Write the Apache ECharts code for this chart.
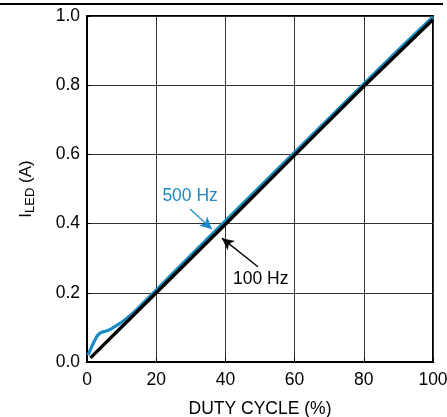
<!DOCTYPE html>
<html>
<head>
<meta charset="utf-8">
<script src="https://cdn.jsdelivr.net/npm/echarts@6/dist/echarts.min.js"></script>
<style>
  html, body { margin: 0; padding: 0; background: #fff; }
  #chart { width: 447px; height: 417px; }
</style>
</head>
<body>
<div id="chart"></div>
<script>
// LED current vs. PWM duty cycle at two dimming frequencies
const dutyCycle500 = [0.3, 1, 2, 3, 4, 5, 6, 7, 8, 10, 12, 15, 20, 30, 40, 50, 60, 70, 80, 90, 100];
const iLed500      = [0.02, 0.036, 0.058, 0.076, 0.085, 0.088, 0.091, 0.096, 0.102, 0.115, 0.13, 0.158, 0.208, 0.308, 0.408, 0.507, 0.606, 0.705, 0.804, 0.902, 0.997];
const dutyCycle100 = [1, 20, 40, 60, 80, 100];
const iLed100      = [0.012, 0.2, 0.398, 0.598, 0.797, 0.99];

const xTicks = [0, 20, 40, 60, 80, 100];
const yTicks = [0.0, 0.2, 0.4, 0.6, 0.8, 1.0];

// Callout annotations in data units: [text, textX, textY, arrowFromX, arrowFromY, arrowToX, arrowToY]
const label500 = ['500 Hz', 29.8, 0.478, 29.8, 0.442, 36.1, 0.384];
const label100 = ['100 Hz', 50.2, 0.240, 49.4, 0.275, 39.0, 0.358];

const BLUE = '#1a8bc6';
const FONT = 'Liberation Sans, Arial, Helvetica, sans-serif';

function zip(xs, ys) { return xs.map((x, i) => [x, ys[i]]); }

function callout(def, color) {
  return {
    markLine: {
      silent: true,
      animation: false,
      symbol: ['none', 'arrow'],
      symbolSize: [9, 12],
      label: { show: false },
      lineStyle: { color: color, width: 1.3, type: 'solid' },
      data: [[{ coord: [def[3], def[4]] }, { coord: [def[5], def[6]] }]]
    },
    markPoint: {
      silent: true,
      animation: false,
      symbol: 'circle',
      symbolSize: 0,
      data: [{ coord: [def[1], def[2]] }],
      label: {
        show: true,
        position: 'inside',
        formatter: def[0],
        color: color,
        fontSize: 17.5,
        fontFamily: FONT
      }
    }
  };
}

const chart = echarts.init(document.getElementById('chart'), null, { renderer: 'canvas' });

chart.setOption({
  animation: false,
  backgroundColor: '#fff',
  grid: {
    left: 87, top: 16, right: 14, bottom: 55,
    outerBoundsMode: 'none',
    containLabel: false,
    show: true, borderColor: '#000', borderWidth: 2
  },
  graphic: [{
    type: 'line',
    shape: { x1: 0, y1: 4, x2: 443, y2: 4 },
    style: { stroke: '#000', lineWidth: 2 },
    silent: true
  }],
  xAxis: {
    type: 'value',
    min: xTicks[0], max: xTicks[xTicks.length - 1], interval: 20,
    name: 'DUTY CYCLE (%)',
    nameLocation: 'middle',
    nameGap: 38,
    nameTextStyle: { color: '#000', fontSize: 17.5, fontFamily: FONT },
    axisLine: { show: true, lineStyle: { color: '#000', width: 2 } },
    axisTick: { show: true, inside: true, length: 4, lineStyle: { color: '#000' } },
    axisLabel: { color: '#000', fontSize: 17.5, fontFamily: FONT, margin: 9 },
    splitLine: { show: true, lineStyle: { color: '#333', width: 1 } }
  },
  yAxis: {
    type: 'value',
    min: yTicks[0], max: yTicks[yTicks.length - 1], interval: 0.2,
    name: '{i|I}{sub|LED}{i| (A)}',
    nameLocation: 'middle',
    nameRotate: 90,
    nameGap: 50,
    nameTextStyle: {
      color: '#000', fontFamily: FONT,
      rich: {
        i: { fontSize: 17, fontFamily: FONT, color: '#000' },
        sub: { fontSize: 13, fontFamily: FONT, color: '#000', verticalAlign: 'bottom', padding: [8, 0, 0, 0] }
      }
    },
    axisLine: { show: true, lineStyle: { color: '#000', width: 2 } },
    axisTick: { show: true, inside: true, length: 4, lineStyle: { color: '#000' } },
    axisLabel: {
      color: '#000', fontSize: 17.5, fontFamily: FONT, margin: 7,
      formatter: v => v.toFixed(1)
    },
    splitLine: { show: true, lineStyle: { color: '#333', width: 1 } }
  },
  series: [
    Object.assign({
      name: '500 Hz',
      type: 'line',
      data: zip(dutyCycle500, iLed500),
      smooth: 0.3,
      showSymbol: false,
      lineStyle: { color: BLUE, width: 3.2 },
      z: 3
    }, callout(label500, BLUE)),
    Object.assign({
      name: '100 Hz',
      type: 'line',
      data: zip(dutyCycle100, iLed100),
      showSymbol: false,
      lineStyle: { color: '#000', width: 3.4 },
      z: 4
    }, callout(label100, '#000'))
  ]
});
</script>
</body>
</html>
